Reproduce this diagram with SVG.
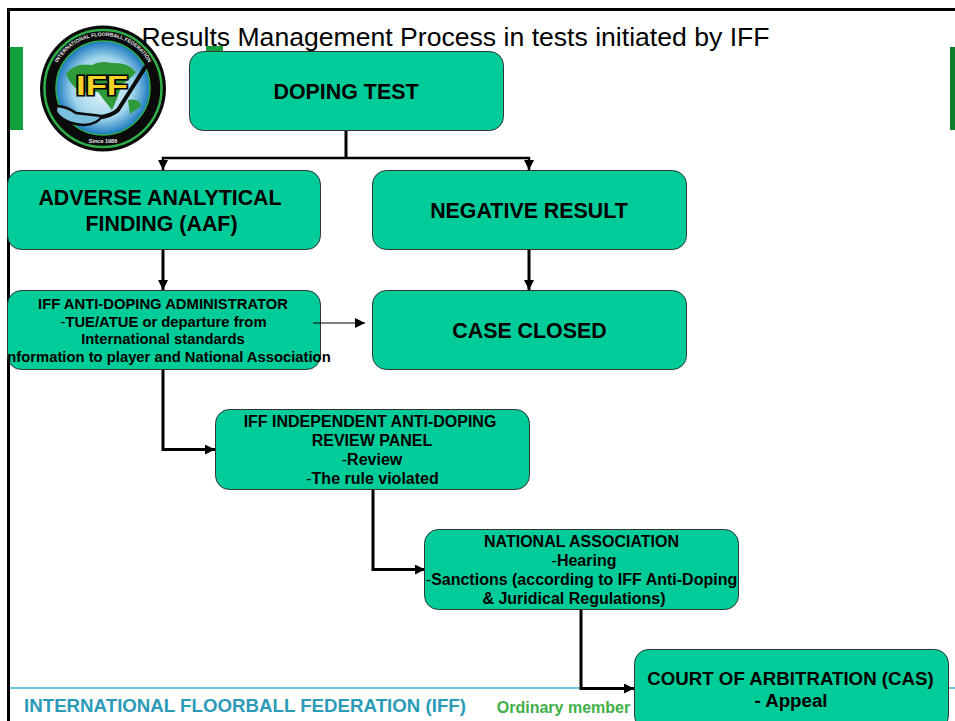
<svg xmlns="http://www.w3.org/2000/svg" width="955" height="721" viewBox="0 0 955 721">
<defs>
<style>
.box{fill:#00cc99;stroke:#333;stroke-width:1}
text{font-family:"Liberation Sans",Arial,sans-serif;text-anchor:middle;fill:#000}
.b{font-weight:bold}
.big{font-size:21.400px;font-weight:bold}
.mid{font-size:18.700px;font-weight:bold}
.sm{font-size:14.800px;font-weight:bold}
.md{font-size:16px;font-weight:bold}
.n{font-weight:normal}
.c{fill:none;stroke:#000;stroke-width:3}
.t{fill:none;stroke:#000;stroke-width:2.500}
.land{fill:#2f9a3a}
</style>
<marker id="ah" viewBox="0 0 10 10" refX="10" refY="5" markerWidth="10" markerHeight="10" markerUnits="userSpaceOnUse" orient="auto"><path d="M0 0L10 5L0 10Z" fill="#000"/></marker>
<radialGradient id="globe" cx="0.5" cy="0.5" r="0.5"><stop offset="0" stop-color="#eef8fb"/><stop offset="0.65" stop-color="#9fd4ea"/><stop offset="1" stop-color="#1a78c0"/></radialGradient>
<path id="ring" d="M51 88A52 52 0 0 1 155 88"/>
</defs>
<rect width="955" height="721" fill="#fff"/>
<g id="frame">
<path d="M8.500 721V9.500H955" fill="none" stroke="#000" stroke-width="3"/>
<rect x="10" y="47" width="13" height="83" fill="#12a03c"/>
<rect x="950" y="47" width="5" height="83" fill="#0f7f2c"/>
<rect x="206" y="46" width="17" height="6" fill="#12a03c"/>
<path d="M10 688H955" stroke="#3fb6cf" stroke-width="1.500"/>
</g>
<g id="logo">
<circle cx="103" cy="88.500" r="63" fill="#0a0a0a"/>
<circle cx="103" cy="88.500" r="58.500" fill="none" stroke="#2fae4a" stroke-width="2.500"/>
<circle cx="103" cy="88" r="47" fill="url(#globe)" stroke="#2fae4a" stroke-width="1.500"/>
<path class="land" d="M66 74Q74 62 92 65Q100 60 112 63Q128 62 136 72Q130 80 122 84Q118 98 112 110L104 100L98 92Q84 94 78 90Q70 84 66 74Z"/>
<path class="land" d="M128 100Q140 98 141 106L130 114Z"/>
<path d="M146 66L118 110Q112 116 96 118" fill="none" stroke="#0a0a0a" stroke-width="4"/>
<path d="M56 106Q66 106 76 113L102 116Q98 124 84 125Q64 124 56 112Z" fill="#7ac0dc" stroke="#0a0a0a" stroke-width="2.500"/>
<text x="102" y="95" style="font-size:27px;font-weight:bold;fill:#f5d327;stroke:#000;stroke-width:3;paint-order:stroke" textLength="52" lengthAdjust="spacingAndGlyphs">IFF</text>
<text style="font-size:5.200px;font-weight:bold;fill:#e8e8e8"><textPath href="#ring" startOffset="50%">INTERNATIONAL FLOORBALL FEDERATION</textPath></text>
<text x="103" y="143" style="font-size:5.500px;font-weight:bold;fill:#eee">Since 1986</text>
</g>
<text id="title" x="455.500" y="46" style="font-size:26.600px">Results Management Process in tests initiated by IFF</text>
<g id="connectors">
<path class="c" d="M346 131V158"/>
<path class="t" d="M346 158H163V170" marker-end="url(#ah)"/>
<path class="t" d="M346 158H529V170" marker-end="url(#ah)"/>
<path class="c" d="M163 250V290" marker-end="url(#ah)"/>
<path class="c" d="M529 250V290" marker-end="url(#ah)"/>
<path class="c" d="M163 370V449.500H215" marker-end="url(#ah)"/>
<path class="c" d="M373 490V569.500H425" marker-end="url(#ah)"/>
<path class="c" d="M581 610V688.500H634" marker-end="url(#ah)"/>
</g>
<g id="doping-test"><rect class="box" x="189.500" y="51.500" width="314" height="79" rx="14"/><text class="big" x="346" y="99">DOPING TEST</text></g>
<g id="aaf"><rect class="box" x="7.500" y="170.500" width="313" height="79" rx="14"/><text class="big" x="160" y="205">ADVERSE ANALYTICAL</text><text class="big" x="161.500" y="231">FINDING (AAF)</text></g>
<g id="negative"><rect class="box" x="372.500" y="170.500" width="314" height="79" rx="14"/><text class="big" x="529" y="218">NEGATIVE RESULT</text></g>
<g id="administrator"><rect class="box" x="7.500" y="290.500" width="313" height="79" rx="14"/><text class="sm" x="163" y="309">IFF ANTI-DOPING ADMINISTRATOR</text><text class="sm" x="163.500" y="327"><tspan class="n">-</tspan>TUE/ATUE or departure from</text><text class="sm" x="163" y="344">International standards</text><text class="sm" x="169" y="362">nformation to player and National Association</text></g>
<g id="case-closed"><rect class="box" x="372.500" y="290.500" width="314" height="79" rx="14"/><text class="big" x="529.500" y="338">CASE CLOSED</text></g>
<path id="admin-to-closed" d="M313 323H365" style="fill:none;stroke:#000;stroke-width:1.200" marker-end="url(#ah)"/>
<g id="review-panel"><rect class="box" x="215.500" y="409.500" width="314" height="80" rx="14"/><text class="md" x="370" y="427">IFF INDEPENDENT ANTI-DOPING</text><text class="md" x="372" y="446">REVIEW PANEL</text><text class="md" x="372" y="465"><tspan class="n">-</tspan>Review</text><text class="md" x="372.500" y="484"><tspan class="n">-</tspan>The rule violated</text></g>
<g id="national-association"><rect class="box" x="424.500" y="529.500" width="314" height="80" rx="14"/><text class="md" x="581.500" y="547">NATIONAL ASSOCIATION</text><text class="md" x="584" y="566"><tspan class="n">-</tspan>Hearing</text><text class="md" x="581.500" y="585"><tspan class="n">-</tspan>Sanctions (according to IFF Anti-Doping</text><text class="md" x="574" y="604">&amp; Juridical Regulations)</text></g>
<g id="cas"><rect class="box" x="634.500" y="649.500" width="314" height="80" rx="14"/><text class="mid" x="790.500" y="685">COURT OF ARBITRATION (CAS)</text><text class="mid" x="791" y="707">- Appeal</text></g>
<g id="footer"><text x="245" y="712" class="b" style="font-size:18.700px;fill:#2b9bb8">INTERNATIONAL FLOORBALL FEDERATION (IFF)</text><text x="563.500" y="713" class="b" style="font-size:16px;fill:#3eb049">Ordinary member</text></g>
</svg>
